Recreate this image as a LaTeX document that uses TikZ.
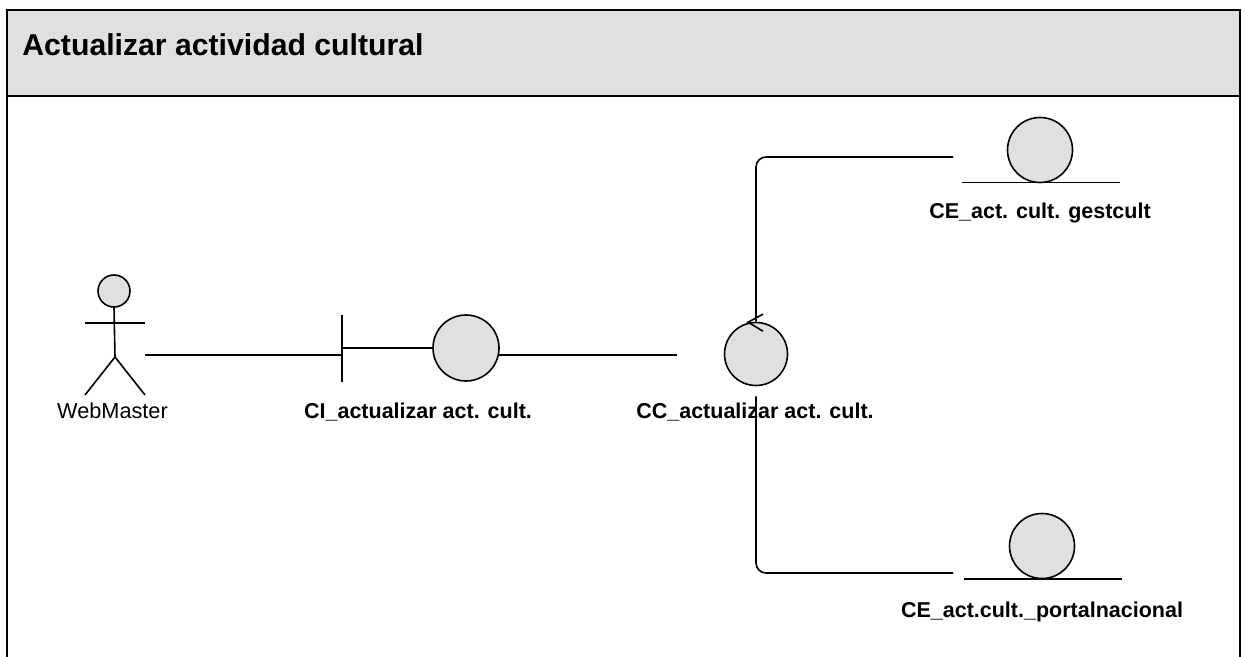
\documentclass[tikz,border=0pt]{standalone}
\usepackage{fontspec}
\setmainfont{Liberation Sans}
\usetikzlibrary{calc}
\definecolor{bandgray}{HTML}{E0E0E0}
\begin{document}
\begin{tikzpicture}[x=0.5pt,y=-0.5pt,
  frameline/.style={line width=1pt,black},
  conn/.style={line width=0.8pt,black},
  ball/.style={circle,draw=black,line width=0.8pt,fill=bandgray,inner sep=0pt},
  lbl/.style={font=\fontsize{10.75}{13}\selectfont\bfseries,anchor=base,inner sep=0pt},
  actlbl/.style={font=\fontsize{10.85}{13}\selectfont,anchor=base,inner sep=0pt}]
\useasboundingbox (0,0) rectangle (1245,657);

% frame with header band
\fill[bandgray] (7,10) rectangle (1240,96);
\draw[frameline] (7,665) -- (7,10) -- (1240,10) -- (1240,665);
\draw[frameline] (7,96) -- (1240,96);
\node[font=\fontsize{15.1}{18}\selectfont\bfseries,anchor=base west,inner sep=0pt] (title) at (22,56) {Actualizar actividad cultural};

% actor
\node[ball,minimum size=16pt] (head) at (114,291) {};
\draw[conn] (head.south) -- (115,357) coordinate (hip);
\draw[conn] (85,323) -- (145,323);
\draw[conn] (85,395) -- (hip) -- (145,395);
\node[actlbl] (wmlabel) at (112.5,418) {WebMaster};
\coordinate (wm) at (145,355);

% boundary
\node[ball,minimum size=33pt] (ci) at (466,348) {};
\coordinate (citop) at (342,315);
\coordinate (cibot) at (342,382);
\draw[conn] (citop) -- (cibot);
\draw[conn] (ci.west) -- (ci.west -| citop);
\coordinate (ciin) at (342,355);
\node[lbl] (cilabel) at (418,418) {CI\_actualizar act. cult.};
\draw[conn] (wm) -- (ciin);

% control
\node[ball,minimum size=31.5pt] (cc) at (756,354) {};
\draw[conn] (cc.north) ++(7,-7.5) -- ++(-15,8) -- ++(15,9);
\node[lbl] (cclabel) at (755,418) {CC\_actualizar act. cult.};
\coordinate (ciout) at (499,355);
\coordinate (ccin) at (677,355);
\draw[conn] (ciout) -- (ccin);

% entity: gestcult
\node[ball,minimum size=32.5pt] (ceone) at (1040,150) {};
\draw[conn] (962,182.5) -- (1120,182.5);
\node[lbl] (ceonelabel) at (1040,219) {CE\_act. cult. gestcult};
\coordinate (ceonein) at (953,157);
\draw[conn,rounded corners=5pt] (cc.north) -- (cc.north |- ceonein) -- (ceonein);

% entity: portal nacional
\node[ball,minimum size=32.5pt] (cetwo) at (1042,546) {};
\draw[conn] (964,579) -- (1122,579);
\node[lbl] (cetwolabel) at (1042,617) {CE\_act.cult.\_portalnacional};
\coordinate (cetwoin) at (953,573);
\draw[conn,rounded corners=5pt] ($(cc.south)+(0,10)$) -- (cc.south |- cetwoin) -- (cetwoin);
\end{tikzpicture}
\end{document}
